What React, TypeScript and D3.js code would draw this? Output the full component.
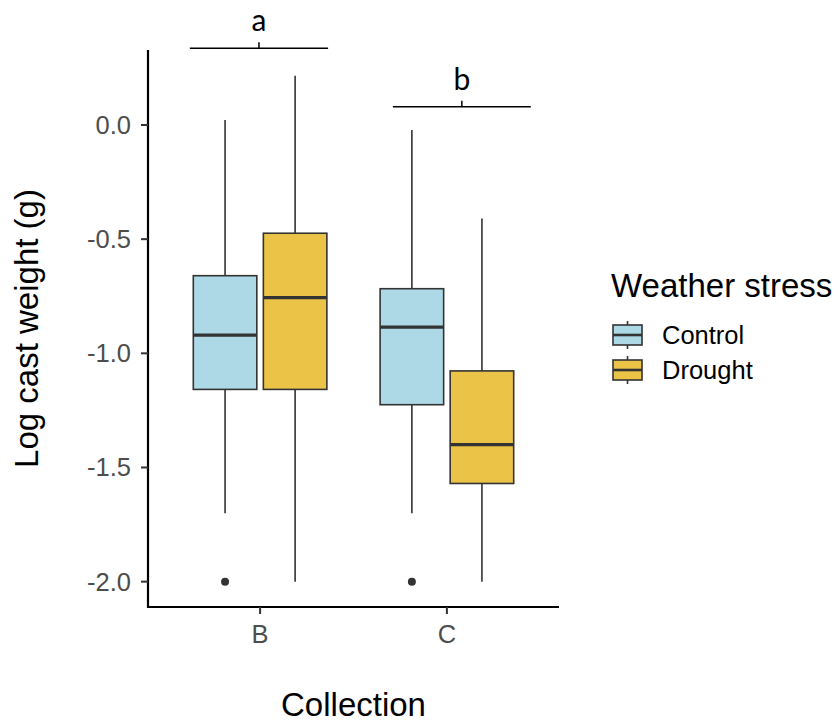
import React from "react";
import * as d3 from "d3";

// collections on the x axis, weather-stress groups in the legend
const collections = ["B", "C"];
const stressGroups = ["Control", "Drought"];
const groupColors = ["#ADD8E6", "#EBC447"];

// box stats: [collection, group, lower, q1, median, q3, upper]
const boxStats: Array<[string, string, number, number, number, number, number]> = [
  ["B", "Control", -1.70, -1.158, -0.92, -0.66, 0.022],
  ["B", "Drought", -2.0, -1.158, -0.756, -0.474, 0.216],
  ["C", "Control", -1.70, -1.225, -0.885, -0.717, -0.022],
  ["C", "Drought", -2.0, -1.57, -1.40, -1.077, -0.41],
];

// outlying points
const outliers: Array<[string, string, number]> = [
  ["B", "Control", -2.0],
  ["C", "Control", -2.0],
];

const yTicks = [0, -0.5, -1, -1.5, -2];

// significance letters: [label, collection, from, to (in category steps), y value]
const letters: Array<[string, string, number, number, number]> = [
  ["a", "B", -0.376, 0.364, 0.336],
  ["b", "C", -0.289, 0.449, 0.08],
];

const W = 839;
const H = 722;
const left = 148;
const right = 559;
const top = 50;
const bottom = 607;
const font = "'Liberation Sans', Arial, sans-serif";

const App: React.FC = () => {
  const x = d3.scalePoint<string>().domain(collections).range([left, right]).padding(0.6);
  const step = x.step();
  const y = d3.scaleLinear().domain([-2.111, 0.3285]).range([bottom, top]);
  const dodge = d3
    .scalePoint<string>()
    .domain(stressGroups)
    .range([-0.1875 * step, 0.1875 * step]);
  const color = d3.scaleOrdinal<string, string>().domain(stressGroups).range(groupColors);
  const boxW = 0.34 * step;
  const cx = (c: string, g: string) => x(c)! + dodge(g)!;

  return (
    <svg
      width={W}
      height={H}
      style={{ position: "absolute", left: 0, top: 0, background: "#fff" }}
      fontFamily={font}
    >
      {/* boxes */}
      {boxStats.map(([c, g, lo, q1, med, q3, hi]) => {
        const m = cx(c, g);
        return (
          <g key={c + g}>
            <line x1={m} x2={m} y1={y(hi)} y2={y(q3)} stroke="#333" strokeWidth={1.6} />
            <line x1={m} x2={m} y1={y(q1)} y2={y(lo)} stroke="#333" strokeWidth={1.6} />
            <rect
              x={m - boxW / 2}
              y={y(q3)}
              width={boxW}
              height={y(q1) - y(q3)}
              fill={color(g)}
              stroke="#333"
              strokeWidth={1.6}
            />
            <line
              x1={m - boxW / 2}
              x2={m + boxW / 2}
              y1={y(med)}
              y2={y(med)}
              stroke="#333"
              strokeWidth={3.2}
            />
          </g>
        );
      })}
      {outliers.map(([c, g, v], i) => (
        <circle key={i} cx={cx(c, g)} cy={y(v)} r={4} fill="#333" />
      ))}

      {/* axes */}
      <line x1={left} x2={left} y1={top} y2={bottom + 1} stroke="#000" strokeWidth={2.2} />
      <line x1={left - 1} x2={right} y1={bottom} y2={bottom} stroke="#000" strokeWidth={2.2} />
      {yTicks.map((t) => (
        <g key={t}>
          <line x1={left - 7} x2={left} y1={y(t)} y2={y(t)} stroke="#333" strokeWidth={2} />
          <text
            x={left - 17}
            y={y(t) + 9}
            textAnchor="end"
            fontSize={25.5}
            fill="#4D4D4D"
          >
            {t.toFixed(1)}
          </text>
        </g>
      ))}
      {collections.map((c) => (
        <g key={c}>
          <line x1={x(c)} x2={x(c)} y1={bottom} y2={bottom + 7} stroke="#333" strokeWidth={2} />
          <text x={x(c)} y={bottom + 36} textAnchor="middle" fontSize={25.5} fill="#4D4D4D">
            {c}
          </text>
        </g>
      ))}
      <text x={(left + right) / 2} y={716} textAnchor="middle" fontSize={33} fill="#000">
        Collection
      </text>
      <text
        transform={`translate(38,${(top + bottom) / 2}) rotate(-90)`}
        textAnchor="middle"
        fontSize={33}
        fill="#000"
      >
        Log cast weight (g)
      </text>

      {/* significance brackets */}
      {letters.map(([lab, c, a, b, v]) => {
        const x0 = x(c)! + a * step;
        const x1 = x(c)! + b * step;
        const mid = (x0 + x1) / 2;
        return (
          <g key={lab}>
            <line x1={x0} x2={x1} y1={y(v)} y2={y(v)} stroke="#000" strokeWidth={1.5} />
            <line x1={mid} x2={mid} y1={y(v)} y2={y(v) - 6} stroke="#000" strokeWidth={1.5} />
            <text
              x={mid}
              y={y(v) - 17}
              textAnchor="middle"
              fontSize={30}
              fontFamily="Lato, 'Open Sans', sans-serif"
              fill="#000"
            >
              {lab}
            </text>
          </g>
        );
      })}

      {/* legend */}
      <text x={611} y={297} fontSize={33} fill="#000">
        Weather stress
      </text>
      {stressGroups.map((g, i) => {
        const ky = 335 + i * 35;
        return (
          <g key={g}>
            <line x1={627.5} x2={627.5} y1={ky - 14} y2={ky + 14} stroke="#333" strokeWidth={1.6} />
            <rect x={613} y={ky - 10} width={29} height={20} fill={color(g)} stroke="#333" strokeWidth={1.6} />
            <line x1={613} x2={642} y1={ky} y2={ky} stroke="#333" strokeWidth={2.6} />
            <text x={662} y={ky + 9} fontSize={25.5} fill="#000">
              {g}
            </text>
          </g>
        );
      })}
    </svg>
  );
};

export default App;
